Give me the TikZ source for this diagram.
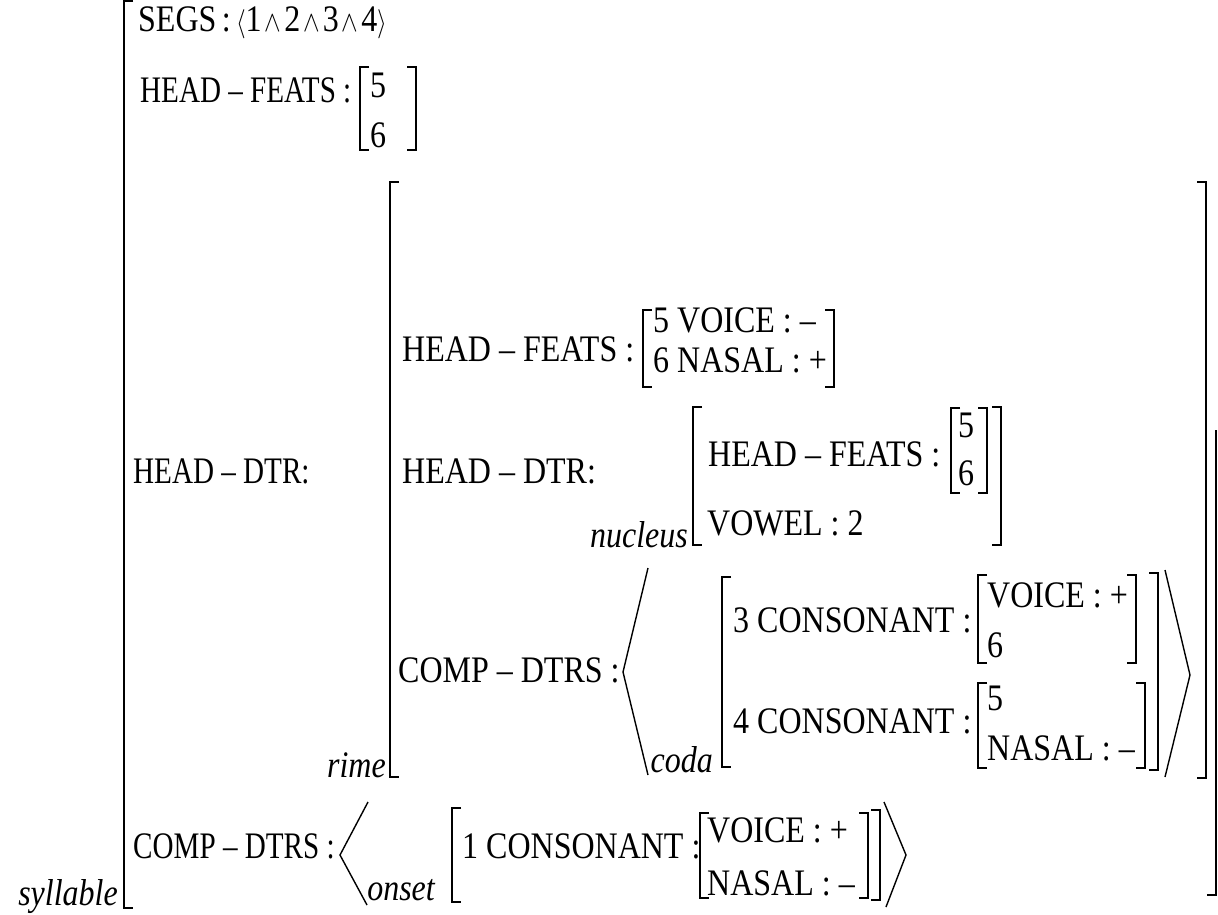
\documentclass[tikz,border=0pt]{standalone}
\usepackage{fontspec}
\setmainfont{Liberation Serif}
\usepackage{graphicx}
\newcommand\avmL[3]{\draw[brk] ({#1+9},#2) -- (#1,#2) -- (#1,#3) -- ({#1+9},#3);}
\newcommand\avmR[3]{\draw[brk] ({#1-9},#2) -- (#1,#2) -- (#1,#3) -- ({#1-9},#3);}
\newcommand\st[1]{\scalebox{1}[1.17]{#1}}
\newcommand\sn[1]{\scalebox{0.91}[1.17]{#1}}
\begin{document}
\begin{tikzpicture}[x=1pt,y=-1pt,
  lab/.style={anchor=base west,inner sep=0pt,font=\fontsize{32}{38}\selectfont},
  tag/.style={anchor=base east,inner sep=0pt,font=\fontsize{32}{38}\selectfont\itshape},
  brk/.style={line width=1.8pt},
  ang/.style={line width=1.4pt}]
\useasboundingbox (0,0) rectangle (1218,915);
% outer AVM (syllable)
\avmL{124}{1}{908}
\node[tag] (syl) at (118,905) {\st{syllable}};
\draw[brk] (1207,895) -- (1216,895) -- (1216,430);
\node[lab] (segs) at (138,32) {\st{SEGS\,:\,$\langle$1\hspace{3pt}$\wedge$\hspace{3pt}2\hspace{3pt}$\wedge$\hspace{3pt}3\hspace{3pt}$\wedge$\hspace{3pt}4$\rangle$}};
\node[lab] (hfa) at (140,103) {\sn{HEAD – FEATS :}};
\avmL{360}{67}{150}\avmR{416}{67}{150}
\node[lab] (hfa5) at (370,98) {\st{5}};
\node[lab] (hfa6) at (370,148) {\st{6}};
\node[lab] (hda) at (133,483) {\sn{HEAD – DTR:}};
% rime
\avmL{390}{182}{777}\avmR{1206}{182}{778}
\node[tag] (rime) at (386,777) {\st{rime}};
\node[lab] (hfb) at (402,361) {\st{HEAD – FEATS :}};
\avmL{643}{310}{387}\avmR{834}{310}{387}
\node[lab] (hfb1) at (653,332) {\st{5 VOICE : –}};
\node[lab] (hfb2) at (653,372) {\st{6 NASAL : +}};
\node[lab] (hdb) at (402,483) {\st{HEAD – DTR:}};
% nucleus
\node[tag] (nuc) at (688,547) {\st{nucleus}};
\avmL{693}{407}{545}\avmR{1001}{407}{545}
\node[lab] (hfc) at (708,466) {\st{HEAD – FEATS :}};
\avmL{951}{408}{493}\avmR{987}{408}{493}
\node[lab] (hfc5) at (958,437) {\st{5}};
\node[lab] (hfc6) at (958,485) {\st{6}};
\node[lab] (vow) at (707,535) {\st{VOWEL : 2}};
% coda
\node[lab] (cdb) at (398,682) {\st{COMP – DTRS :}};
\draw[ang] (648,568) -- (623,672) -- (648,775);
\node[tag] (coda) at (713,772) {\st{coda}};
\avmL{722}{577}{767}\avmR{1158}{573}{770}
\node[lab] (c3) at (733,632) {\st{3 CONSONANT :}};
\avmL{978}{575}{663}\avmR{1136}{575}{663}
\node[lab] (c3a) at (987,607) {\st{VOICE : +}};
\node[lab] (c3b) at (987,657) {\st{6}};
\node[lab] (c4) at (733,733) {\st{4 CONSONANT :}};
\avmL{978}{683}{768}\avmR{1145}{683}{768}
\node[lab] (c4a) at (987,710) {\st{5}};
\node[lab] (c4b) at (987,760) {\st{NASAL : –}};
\draw[ang] (1165,570) -- (1190,675) -- (1165,777);
% onset
\node[lab] (cda) at (133,858) {\sn{COMP – DTRS :}};
\draw[ang] (368,802) -- (340,855) -- (367,905);
\node[tag] (ons) at (435,900) {\st{onset}};
\avmL{452}{808}{902}\avmR{880}{810}{900}
\node[lab] (c1) at (462,858) {\st{1 CONSONANT :}};
\avmL{700}{813}{898}\avmR{868}{813}{898}
\node[lab] (c1a) at (707,842) {\st{VOICE : +}};
\node[lab] (c1b) at (707,895) {\st{NASAL : –}};
\draw[ang] (884,802) -- (906,855) -- (886,907);
\end{tikzpicture}
\end{document}
